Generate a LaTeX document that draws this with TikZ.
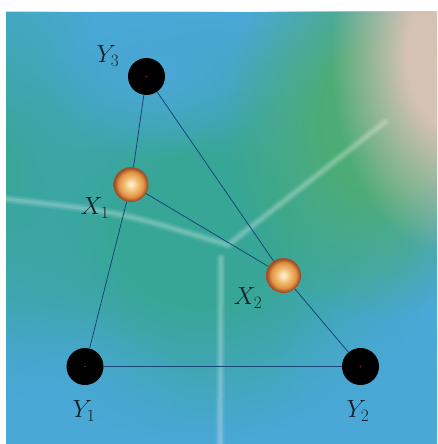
\documentclass[tikz,border=0pt]{standalone}
\usetikzlibrary{fadings}
\definecolor{bgblue}{RGB}{74,168,214}
\definecolor{bgteal}{RGB}{56,166,150}
\definecolor{bggreen}{RGB}{76,172,118}
\definecolor{bgbeige}{RGB}{214,194,178}
\definecolor{edgecol}{RGB}{24,70,118}
\definecolor{lblcol}{RGB}{22,32,42}
\definecolor{ballhi}{RGB}{255,248,225}
\definecolor{ballmid}{RGB}{245,200,130}
\definecolor{ballout}{RGB}{226,146,66}
\definecolor{ballrim}{RGB}{160,80,40}
\definecolor{dotcol}{RGB}{120,40,70}
\tikzfading[name=softblob, inner color=transparent!0, outer color=transparent!100]
\pgfdeclareradialshading{plateaushade}{\pgfpointorigin}{%
  color(0pt)=(white); color(9pt)=(white); color(25pt)=(black); color(50pt)=(black)}
\pgfdeclarefading{plateau}{\pgfuseshading{plateaushade}}
\pgfdeclareradialshading{orangeball}{\pgfpoint{0bp}{0bp}}{%
  color(0bp)=(ballhi); color(8bp)=(ballmid); color(18bp)=(ballout);
  color(23.5bp)=(ballrim); color(25bp)=(ballrim); color(50bp)=(ballrim)}
\tikzset{
  blackball/.style={circle, fill=black, minimum size=37pt, inner sep=0pt},
  orangeball/.style={circle, shading=orangeball, minimum size=35pt, inner sep=0pt},
  edge/.style={draw=edgecol, line width=0.8pt},
  lbl/.style={text=lblcol, font=\fontsize{24}{28}\selectfont, inner sep=0pt},
  glow/.style={draw=white, line cap=round, line join=round}
}
\begin{document}
\begin{tikzpicture}[x=1pt, y=-1pt]
\useasboundingbox (0,0) rectangle (437,444);
\fill[white] (0,0) rectangle (437,444);
% background
\begin{scope}
\clip (6,12) rectangle (437,444);
\fill[bgblue] (6,12) rectangle (437,444);
\fill[bgteal, path fading=plateau] (200,230) ellipse (240 and 210);
\fill[bgteal, path fading=softblob] (0,170) ellipse (120 and 230);
\fill[bgblue, path fading=softblob] (160,72) ellipse (120 and 85);
\fill[bgblue, path fading=softblob] (60,420) ellipse (140 and 120);
\fill[bgblue, path fading=softblob] (420,400) ellipse (160 and 140);
\fill[bggreen, path fading=plateau] (375,120) ellipse (150 and 200);
\fill[bgbeige, path fading=plateau] (450,55) ellipse (120 and 200);
% faint light lines
\coordinate (J) at (228,245);
\coordinate (La) at (6,199);
\coordinate (Ra) at (385,122);
\coordinate (Va) at (221,258);
\coordinate (Vb) at (220,444);
\foreach \w/\o in {9/0.08, 6/0.10, 3/0.13} {
  \draw[glow, line width=\w pt, opacity=\o] (La) .. controls (120,212) .. (J) -- (Ra);
  \draw[glow, line width=\w pt, opacity=\o] (Va) -- (Vb);
}
\end{scope}
% nodes
\node[blackball] (Y3) at (146.5,76.5) {};
\node[orangeball] (X1) at (131,184.5) {};
\node[orangeball] (X2) at (283.5,275.5) {};
\node[blackball] (Y1) at (85,366.5) {};
\node[blackball] (Y2) at (360.5,366.5) {};
\foreach \n in {Y1,Y2,Y3} \fill[dotcol] (\n) circle (0.9);
% connectors
\draw[edge] (Y3) -- (X1);
\draw[edge] (X1) -- (Y1);
\draw[edge] (Y1) -- (Y2);
\draw[edge] (Y2) -- (X2);
\draw[edge] (X2) -- (Y3);
\draw[edge] (X1) -- (X2);
% labels
\node[lbl] (lY3) at (108,56) {$Y_3$};
\node[lbl] (lX1) at (95,208) {$X_1$};
\node[lbl] (lX2) at (248,298) {$X_2$};
\node[lbl] (lY1) at (84,411) {$Y_1$};
\node[lbl] (lY2) at (358,411) {$Y_2$};
\end{tikzpicture}
\end{document}
